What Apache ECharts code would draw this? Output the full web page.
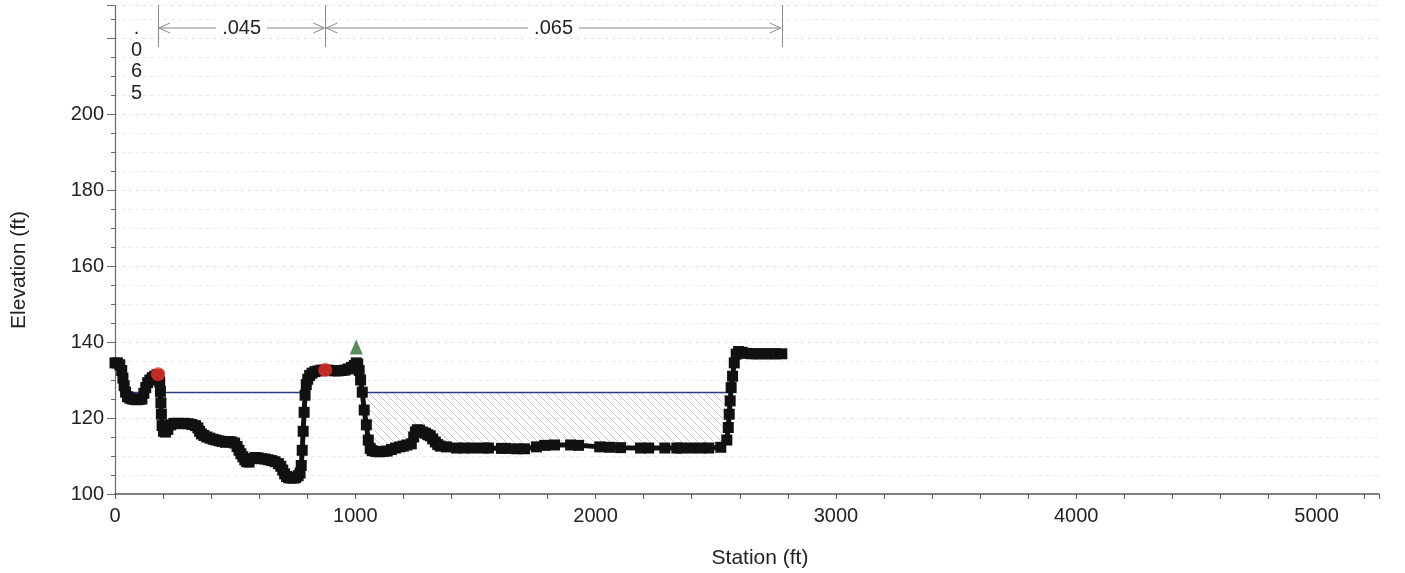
<!DOCTYPE html>
<html>
<head>
<meta charset="utf-8">
<script src="https://cdn.jsdelivr.net/npm/echarts@6/dist/echarts.min.js"></script>
<style>
  html, body { margin: 0; padding: 0; background: #fff; }
  #chart { width: 1405px; height: 573px; }
</style>
</head>
<body>
<div id="chart"></div>
<script>
// Cross-section ground profile (station ft, elevation ft)
const groundStation = [
  0, 10, 20, 28, 33, 38, 44, 52, 62, 72, 82, 92, 102, 112, 120, 128, 136, 145, 155, 165,
  175, 182, 186, 189, 191, 193, 196, 202, 210, 220, 232, 245, 260, 275, 290, 305, 320, 335, 345, 352,
  360, 370, 382, 395, 408, 420, 433, 446, 460, 473, 486, 498, 508, 516, 524, 532, 540, 548, 558, 570,
  583, 596, 610, 624, 638, 652, 666, 680, 690, 698, 706, 714, 722, 732, 742, 752, 762, 770, 775, 779,
  783, 787, 791, 796, 802, 810, 820, 832, 845, 858, 872, 886, 900, 914, 928, 942, 956, 970, 984, 996,
  1004, 1010, 1016, 1022, 1029, 1037, 1046, 1054, 1062, 1070, 1085, 1100, 1115, 1133, 1150, 1167, 1185, 1200, 1215, 1233,
  1243, 1250, 1258, 1267, 1280, 1292, 1302, 1312, 1322, 1333, 1343, 1354, 1379, 1421, 1454, 1488, 1533, 1554, 1608, 1625,
  1671, 1704, 1754, 1788, 1829, 1896, 1929, 2017, 2058, 2104, 2187, 2221, 2288, 2338, 2354, 2396, 2438, 2471, 2521, 2546,
  2552, 2556, 2560, 2564, 2570, 2577, 2585, 2595, 2610, 2630, 2650, 2670, 2690, 2710, 2730, 2750, 2775
];
const groundElev = [
  134.5, 134.5, 134.0, 132.5, 130.5, 128.5, 126.8, 125.6, 125.2, 125.0, 124.9, 124.8, 124.9, 125.0, 126.5, 128.0, 129.3, 130.0, 130.6, 131.0,
  131.4, 131.0, 129.5, 127.0, 124.0, 121.0, 118.0, 116.5, 116.3, 117.0, 118.2, 118.6, 118.6, 118.5, 118.6, 118.5, 118.3, 118.0, 117.4, 116.5,
  115.8, 115.4, 115.0, 114.7, 114.4, 114.2, 114.0, 113.8, 113.6, 113.8, 113.7, 113.4, 112.5, 111.5, 110.6, 109.8, 109.0, 108.5, 108.4, 109.3,
  109.6, 109.5, 109.3, 109.2, 109.0, 108.8, 108.5, 108.0, 107.3, 106.3, 105.3, 104.6, 104.3, 104.2, 104.2, 104.3, 104.8, 105.5, 107.5, 111.5,
  116.5, 121.5, 126.0, 128.8, 130.2, 131.2, 131.8, 132.2, 132.4, 132.6, 132.6, 132.6, 132.5, 132.4, 132.4, 132.5, 132.6, 132.9, 133.3, 133.8,
  134.5, 134.2, 132.5, 130.0, 126.8, 122.1, 118.2, 114.2, 112.0, 111.4, 111.2, 111.1, 111.2, 111.3, 111.7, 112.1, 112.4, 112.6, 112.9, 113.2,
  115.0, 116.3, 116.9, 116.8, 116.3, 116.0, 115.6, 115.3, 114.5, 113.7, 113.0, 112.6, 112.4, 112.1, 112.1, 112.1, 112.1, 112.1, 112.0, 112.0,
  111.9, 111.9, 112.4, 112.8, 112.9, 112.9, 112.8, 112.4, 112.3, 112.2, 112.1, 112.1, 112.1, 112.1, 112.1, 112.1, 112.1, 112.1, 112.3, 114.2,
  117.5, 121.0, 124.5, 128.0, 131.0, 134.5, 136.8, 137.5, 137.3, 137.0, 136.9, 136.9, 136.9, 136.9, 136.9, 136.9, 136.9
];

// Water surface elevation and the reaches where it is drawn
const wsElev = 126.7;
const wsReaches = [[40, 118], [189, 791], [1029, 2561]];
// Effective flow area (main channel) bounds
const flowLeft = 1029;
const flowRight = 2561;

// Bank stations and levee
const bankStations = [179, 875];
const bankElev = [131.5, 132.6];
const leveeStation = [1004];
const leveeElev = [138.7];

// Manning's n regions
const nBreaks = [0, 179, 875, 2775];
const nValues = ['.065', '.045', '.065'];

// Axis ticks
const xTickLabels = [0, 1000, 2000, 3000, 4000, 5000];
const yTickLabels = [100, 120, 140, 160, 180, 200];

const FONT = '"Liberation Sans", Arial, sans-serif';
const ground = groundStation.map((s, i) => [s, groundElev[i]]);

const wsData = [];
wsReaches.forEach(([a, b]) => {
  wsData.push([a, wsElev], [b, wsElev], [b, '-']);
});

const hatchPoly = [[flowLeft, wsElev]];
ground.forEach(p => { if (p[0] > flowLeft && p[0] < flowRight) hatchPoly.push(p); });
hatchPoly.push([flowRight, wsElev]);

function hatchCanvas() {
  const c = document.createElement('canvas');
  c.width = 8; c.height = 8;
  const g = c.getContext('2d');
  g.strokeStyle = '#bcbcbc';
  g.lineWidth = 0.8;
  g.beginPath();
  g.moveTo(0, 0); g.lineTo(8, 8);
  g.moveTo(-1, 7); g.lineTo(1, 9);
  g.moveTo(7, -1); g.lineTo(9, 1);
  g.stroke();
  return c;
}
const hatchImg = hatchCanvas();

const chart = echarts.init(document.getElementById('chart'), null, { renderer: 'canvas' });

chart.setOption({
  animation: false,
  backgroundColor: '#ffffff',
  grid: { left: 115, right: 26, top: 5.7, bottom: 79 },
  xAxis: {
    type: 'value', min: 0, max: 5260, interval: 1000,
    axisLine: { show: true, onZero: false, lineStyle: { color: '#5a5a5a', width: 1.5 } },
    axisTick: { show: true, length: 5, lineStyle: { color: '#5a5a5a' } },
    minorTick: { show: true, splitNumber: 5, length: 5, lineStyle: { color: '#5a5a5a' } },
    splitLine: { show: false },
    axisLabel: {
      margin: 12, color: '#222', fontSize: 20, fontFamily: FONT,
      formatter: v => xTickLabels.indexOf(v) >= 0 ? String(v) : ''
    }
  },
  yAxis: {
    type: 'value', min: 100, max: 228.5, interval: 20,
    axisLine: { show: true, onZero: false, lineStyle: { color: '#6a6a6a', width: 1.2 } },
    axisTick: { show: true, length: 8, lineStyle: { color: '#6a6a6a' } },
    minorTick: { show: true, splitNumber: 4, length: 4, lineStyle: { color: '#6a6a6a' } },
    splitLine: { show: true, lineStyle: { color: '#e2e2e2', type: [3, 4], width: 1 } },
    minorSplitLine: { show: true, lineStyle: { color: '#e8e8e8', type: [3, 4], width: 1 } },
    axisLabel: {
      margin: 11, color: '#222', fontSize: 20, fontFamily: FONT,
      formatter: v => yTickLabels.indexOf(v) >= 0 ? String(v) : ''
    }
  },
  series: [
    {
      type: 'custom', name: 'flow area', coordinateSystem: 'cartesian2d',
      data: hatchPoly, encode: { x: 0, y: 1 }, silent: true, z: 1,
      renderItem: function (params, api) {
        if (params.dataIndex !== 0) return;
        const pts = hatchPoly.map(p => api.coord(p));
        return {
          type: 'polygon', shape: { points: pts },
          style: { fill: { image: hatchImg, repeat: 'repeat' }, stroke: null }
        };
      }
    },
    {
      type: 'line', name: 'WS', data: wsData, connectNulls: false,
      showSymbol: false, silent: true, z: 2,
      lineStyle: { color: '#2b3a86', width: 1.5 }
    },
    {
      type: 'line', name: 'Ground', data: ground, silent: true, z: 3,
      symbol: 'rect', symbolSize: [11, 11], showSymbol: true,
      itemStyle: { color: '#111' },
      lineStyle: { color: '#111', width: 5 }
    },
    {
      type: 'scatter', name: 'Bank Sta', silent: true, z: 4,
      data: bankStations.map((s, i) => [s, bankElev[i]]),
      symbol: 'circle', symbolSize: 14,
      itemStyle: { color: '#ee2f2b' }
    },
    {
      type: 'scatter', name: 'Levee', silent: true, z: 4,
      data: leveeStation.map((s, i) => [s, leveeElev[i]]),
      symbol: 'triangle', symbolSize: [13, 15],
      itemStyle: { color: '#2f6e30' }
    }
  ]
});

// Manning's n annotations along the top of the plot
const px = s => chart.convertToPixel({ gridIndex: 0 }, [s, 150])[0];
const lineTop = 5, lineBottom = 47, arrowY = 28;
const gray = '#8a8a8a';
const elements = [];
nBreaks.forEach((s, i) => {
  if (i === 0) return;
  const x = Math.round(px(s)) + 0.5;
  elements.push({
    type: 'line', silent: true,
    shape: { x1: x, y1: lineTop, x2: x, y2: lineBottom },
    style: { stroke: gray, lineWidth: 1 }
  });
});
nValues.forEach((n, i) => {
  const x1 = px(nBreaks[i]), x2 = px(nBreaks[i + 1]);
  const mid = (x1 + x2) / 2;
  if (x2 - x1 < 70) {
    elements.push({
      type: 'text', silent: true, z: 10,
      style: {
        text: n.split('').join('\n'), x: mid, y: 18, lineHeight: 21.5,
        fill: '#222', font: '20px ' + FONT, textAlign: 'center', textVerticalAlign: 'top'
      }
    });
    return;
  }
  elements.push({
    type: 'line', silent: true,
    shape: { x1: x1 + 1, y1: arrowY, x2: x2 - 1, y2: arrowY },
    style: { stroke: gray, lineWidth: 1 }
  });
  elements.push({
    type: 'polyline', silent: true,
    shape: { points: [[x1 + 12, arrowY - 5], [x1 + 1, arrowY], [x1 + 12, arrowY + 5]] },
    style: { stroke: gray, lineWidth: 1, fill: null }
  });
  elements.push({
    type: 'polyline', silent: true,
    shape: { points: [[x2 - 12, arrowY - 5], [x2 - 1, arrowY], [x2 - 12, arrowY + 5]] },
    style: { stroke: gray, lineWidth: 1, fill: null }
  });
  elements.push({
    type: 'text', silent: true, z: 10,
    style: {
      text: n, x: mid, y: arrowY, fill: '#222', font: '20px ' + FONT,
      textAlign: 'center', textVerticalAlign: 'middle',
      backgroundColor: '#fff', padding: [0, 6]
    }
  });
});

// Axis titles
elements.push({
  type: 'text', silent: true,
  style: {
    text: 'Station (ft)', x: 760, y: 558, fill: '#222', font: '21px ' + FONT,
    textAlign: 'center', textVerticalAlign: 'middle'
  }
});
elements.push({
  type: 'text', silent: true, rotation: Math.PI / 2, x: 19, y: 270,
  style: {
    text: 'Elevation (ft)', x: 0, y: 0, fill: '#222', font: '21px ' + FONT,
    textAlign: 'center', textVerticalAlign: 'middle'
  }
});

chart.setOption({ graphic: { elements: elements } });
</script>
</body>
</html>
